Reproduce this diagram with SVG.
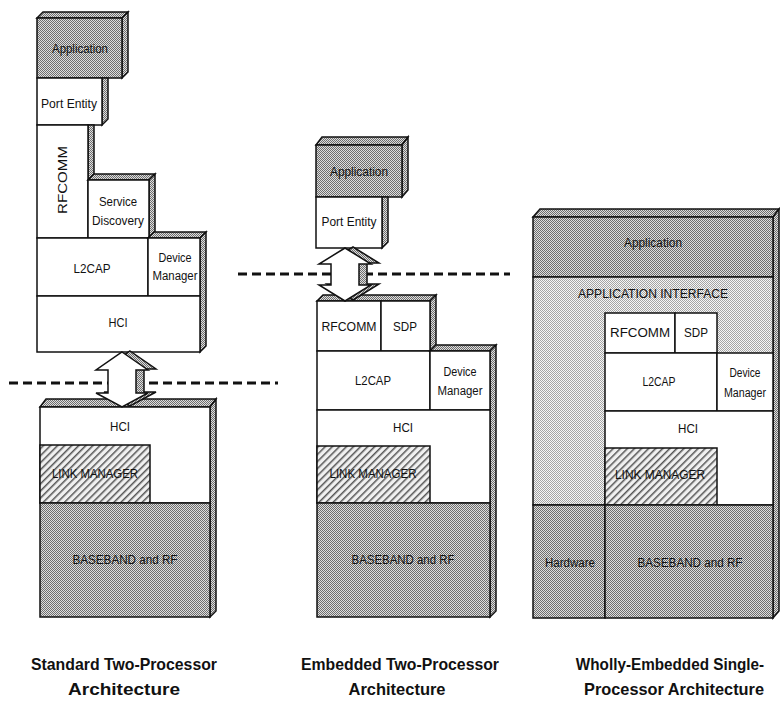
<svg xmlns="http://www.w3.org/2000/svg" width="780" height="701" viewBox="0 0 780 701">
<defs>
<pattern id="dk" width="2" height="2" patternUnits="userSpaceOnUse"><rect width="2" height="2" fill="#dedede"/><rect width="1" height="1" fill="#6e6e6e"/><rect x="1" y="1" width="1" height="1" fill="#6e6e6e"/></pattern>
<pattern id="lt" width="2" height="2" patternUnits="userSpaceOnUse"><rect width="2" height="2" fill="#f6f6f6"/><rect width="1" height="1" fill="#a4a4a4"/><rect x="1" y="1" width="1" height="1" fill="#a4a4a4"/></pattern>
<pattern id="hatch" width="5" height="5" patternUnits="userSpaceOnUse" patternTransform="rotate(45)"><rect width="5" height="5" fill="#f0f0f0"/><rect width="1.5" height="5" fill="#555"/></pattern>
</defs>
<style>
.b{stroke:#111;stroke-width:1.5}
.w{fill:#fff}
.d{fill:url(#dk)}
.l{fill:url(#lt)}
.h{fill:url(#hatch)}
.t{font-family:"Liberation Sans",Arial,sans-serif;font-size:12px;fill:#111;text-anchor:middle}
.c{font-size:17px;font-weight:bold}
.dash{stroke:#111;stroke-width:3;stroke-dasharray:9 5;fill:none}
.aw{fill:#fff;stroke:#111;stroke-width:1.5;stroke-linejoin:miter}
</style>
<rect width="780" height="701" fill="#fff"/>

<!-- Standard two-processor, upper stack -->
<g id="l-app">
<polygon class="b d" points="37,18 43,12 128,12 122,18"/>
<polygon class="b d" points="122,18 128,12 128,72 122,78"/>
<rect class="b d" x="37" y="18" width="85" height="60"/>
<text class="t" x="80" y="53" textLength="56" lengthAdjust="spacingAndGlyphs">Application</text>
</g>
<g id="l-port">
<polygon class="b d" points="102,78 108,78 108,119 102,125"/>
<rect class="b w" x="37" y="78" width="65" height="47"/>
<text class="t" x="69" y="108" textLength="56" lengthAdjust="spacingAndGlyphs">Port Entity</text>
</g>
<g id="l-rfcomm">
<polygon class="b d" points="88,125 94,125 94,174 88,180"/>
<rect class="b w" x="37" y="125" width="51" height="113"/>
<text class="t" transform="translate(67,180) rotate(-90)" style="font-size:13px" textLength="68" lengthAdjust="spacingAndGlyphs">RFCOMM</text>
</g>
<g id="l-sd">
<polygon class="b d" points="88,180 94,174 155,174 149,180"/>
<polygon class="b d" points="149,180 155,174 155,232 149,238"/>
<rect class="b w" x="88" y="180" width="61" height="58"/>
<text class="t" x="118" y="206" textLength="38" lengthAdjust="spacingAndGlyphs">Service</text>
<text class="t" x="118" y="225" textLength="52" lengthAdjust="spacingAndGlyphs">Discovery</text>
</g>
<g id="l-l2cap">
<rect class="b w" x="37" y="238" width="111" height="58"/>
<text class="t" x="92" y="273" textLength="37" lengthAdjust="spacingAndGlyphs">L2CAP</text>
</g>
<g id="l-dm">
<polygon class="b d" points="148,238 154,232 206,232 200,238"/>
<polygon class="b d" points="200,238 206,232 206,346 200,352"/>
<rect class="b w" x="148" y="238" width="52" height="58"/>
<text class="t" x="175" y="262" textLength="33" lengthAdjust="spacingAndGlyphs">Device</text>
<text class="t" x="175" y="280" textLength="45" lengthAdjust="spacingAndGlyphs">Manager</text>
</g>
<g id="l-hci">
<rect class="b w" x="37" y="296" width="163" height="56"/>
<text class="t" x="118" y="327" textLength="19" lengthAdjust="spacingAndGlyphs">HCI</text>
</g>

<!-- Standard two-processor, lower stack -->
<g id="l-hci2">
<polygon class="b d" points="40,407 46,399 216,399 210,407"/>
<polygon class="b d" points="210,407 216,399 216,611 210,617"/>
<rect class="b w" x="40" y="407" width="170" height="96"/>
<text class="t" x="120" y="431" textLength="20" lengthAdjust="spacingAndGlyphs">HCI</text>
</g>
<g id="l-lm">
<rect class="b h" x="40" y="445" width="110" height="58"/>
<text class="t" x="95" y="478" textLength="86" lengthAdjust="spacingAndGlyphs">LINK MANAGER</text>
</g>
<g id="l-bb">
<rect class="b d" x="40" y="503" width="170" height="114"/>
<text class="t" x="125" y="564" textLength="105" lengthAdjust="spacingAndGlyphs">BASEBAND and RF</text>
</g>

<!-- Embedded two-processor, upper -->
<g id="m-app">
<polygon class="b d" points="316,145 322,137 408,137 402,145"/>
<polygon class="b d" points="402,145 408,137 408,190 402,197"/>
<rect class="b d" x="316" y="145" width="86" height="52"/>
<text class="t" x="359" y="176" textLength="58" lengthAdjust="spacingAndGlyphs">Application</text>
</g>
<g id="m-port">
<polygon class="b d" points="382,197 388,197 388,242 382,248"/>
<rect class="b w" x="316" y="197" width="66" height="51"/>
<text class="t" x="349" y="226" textLength="55" lengthAdjust="spacingAndGlyphs">Port Entity</text>
</g>

<!-- Embedded two-processor, lower -->
<g id="m-rfcomm">
<polygon class="b d" points="317,301 323,295 436,295 430,301"/>
<rect class="b w" x="317" y="301" width="64" height="50"/>
<text class="t" x="349" y="331" textLength="55" lengthAdjust="spacingAndGlyphs">RFCOMM</text>
</g>
<g id="m-sdp">
<polygon class="b d" points="430,301 436,295 436,345 430,351"/>
<rect class="b w" x="381" y="301" width="49" height="50"/>
<text class="t" x="405" y="331" textLength="24" lengthAdjust="spacingAndGlyphs">SDP</text>
</g>
<g id="m-l2cap">
<rect class="b w" x="317" y="351" width="113" height="59"/>
<text class="t" x="373" y="385" textLength="36" lengthAdjust="spacingAndGlyphs">L2CAP</text>
</g>
<g id="m-dm">
<polygon class="b d" points="430,351 436,345 496,345 490,351"/>
<polygon class="b d" points="490,351 496,345 496,611 490,617"/>
<rect class="b w" x="430" y="351" width="60" height="59"/>
<text class="t" x="460" y="376" textLength="33" lengthAdjust="spacingAndGlyphs">Device</text>
<text class="t" x="460" y="395" textLength="45" lengthAdjust="spacingAndGlyphs">Manager</text>
</g>
<g id="m-hci">
<rect class="b w" x="317" y="410" width="173" height="93"/>
<text class="t" x="403" y="432" textLength="20" lengthAdjust="spacingAndGlyphs">HCI</text>
</g>
<g id="m-lm">
<rect class="b h" x="317" y="446" width="113" height="57"/>
<text class="t" x="373" y="478" textLength="87" lengthAdjust="spacingAndGlyphs">LINK MANAGER</text>
</g>
<g id="m-bb">
<rect class="b d" x="317" y="503" width="173" height="114"/>
<text class="t" x="403" y="564" textLength="103" lengthAdjust="spacingAndGlyphs">BASEBAND and RF</text>
</g>

<!-- Wholly-embedded single-processor -->
<g id="r-app">
<polygon class="b d" points="533,217 540,209 779,209 773,217"/>
<polygon class="b d" points="773,217 779,209 779,611 773,618"/>
<rect class="b d" x="533" y="217" width="240" height="60"/>
<text class="t" x="653" y="247" textLength="58" lengthAdjust="spacingAndGlyphs">Application</text>
</g>
<g id="r-ai">
<rect class="b l" x="533" y="277" width="240" height="228"/>
<text class="t" x="653" y="298" textLength="150" lengthAdjust="spacingAndGlyphs">APPLICATION INTERFACE</text>
</g>
<g id="r-rfcomm">
<rect class="b w" x="605" y="313" width="70" height="40"/>
<text class="t" x="640" y="337" textLength="60" lengthAdjust="spacingAndGlyphs">RFCOMM</text>
</g>
<g id="r-sdp">
<rect class="b w" x="675" y="313" width="42" height="40"/>
<text class="t" x="696" y="337" textLength="24" lengthAdjust="spacingAndGlyphs">SDP</text>
</g>
<g id="r-l2cap">
<rect class="b w" x="605" y="353" width="112" height="58"/>
<text class="t" x="659" y="386" textLength="33" lengthAdjust="spacingAndGlyphs">L2CAP</text>
</g>
<g id="r-dm">
<rect class="b w" x="717" y="353" width="56" height="58"/>
<text class="t" x="745" y="377" textLength="31" lengthAdjust="spacingAndGlyphs">Device</text>
<text class="t" x="745" y="397" textLength="42" lengthAdjust="spacingAndGlyphs">Manager</text>
</g>
<g id="r-hci">
<rect class="b w" x="605" y="411" width="168" height="94"/>
<text class="t" x="688" y="433" textLength="20" lengthAdjust="spacingAndGlyphs">HCI</text>
</g>
<g id="r-lm">
<rect class="b h" x="605" y="448" width="112" height="57"/>
<text class="t" x="660" y="479" textLength="90" lengthAdjust="spacingAndGlyphs">LINK MANAGER</text>
</g>
<g id="r-hw">
<rect class="b d" x="533" y="505" width="72" height="113"/>
<text class="t" x="570" y="567" textLength="50" lengthAdjust="spacingAndGlyphs">Hardware</text>
</g>
<g id="r-bb">
<rect class="b d" x="605" y="505" width="168" height="113"/>
<text class="t" x="690" y="567" textLength="105" lengthAdjust="spacingAndGlyphs">BASEBAND and RF</text>
</g>

<!-- Connectors -->
<g id="connectors">
<line class="dash" x1="9" y1="383" x2="278" y2="383"/>
<polygon class="b d" points="130,351 156,369 144,369 144,392 156,392 130,406 104,392 116,392 116,369 104,369"/>
<polygon class="aw" points="122,352 148,370 136,370 136,393 148,393 122,407 96,393 108,393 108,370 96,370"/>
<line class="dash" x1="238" y1="274" x2="510" y2="274"/>
<polygon class="b d" points="353,247 379,263 367,263 367,284 379,284 353,300 327,284 339,284 339,263 327,263"/>
<polygon class="aw" points="345,248 371,264 359,264 359,285 371,285 345,301 319,285 331,285 331,264 319,264"/>
</g>

<!-- Captions -->
<g id="captions">
<text class="t c" x="124" y="670" textLength="186" lengthAdjust="spacingAndGlyphs">Standard Two-Processor</text>
<text class="t c" x="124" y="695" textLength="112" lengthAdjust="spacingAndGlyphs">Architecture</text>
<text class="t c" x="400" y="670" textLength="198" lengthAdjust="spacingAndGlyphs">Embedded Two-Processor</text>
<text class="t c" x="397" y="695" textLength="97" lengthAdjust="spacingAndGlyphs">Architecture</text>
<text class="t c" transform="translate(670,670) scale(0.88,1)" x="0" y="0" textLength="214" lengthAdjust="spacingAndGlyphs">Wholly-Embedded Single-</text>
<text class="t c" x="674" y="695" textLength="180" lengthAdjust="spacingAndGlyphs">Processor Architecture</text>
</g>
</svg>
